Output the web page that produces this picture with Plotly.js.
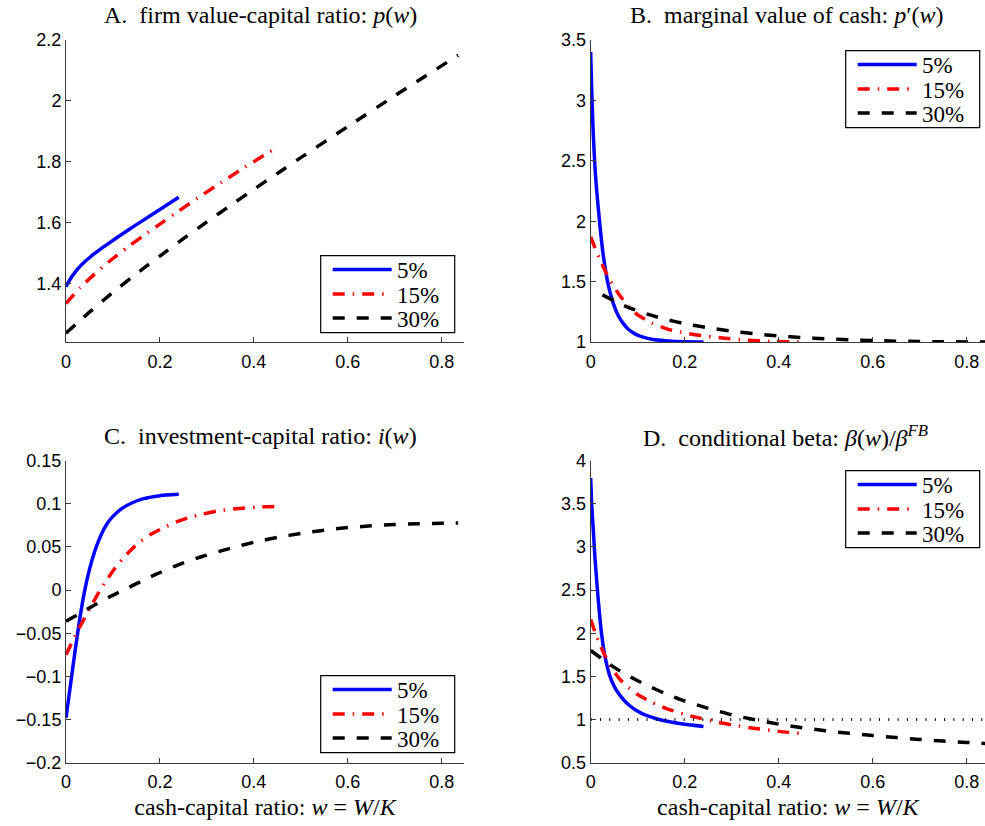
<!DOCTYPE html>
<html>
<head>
<meta charset="utf-8">
<script src="https://cdn.plot.ly/plotly-3.0.1.min.js"></script>
<style>html,body{margin:0;padding:0;background:#fff;}#chart{width:985px;height:826px;}</style>
</head>
<body>
<div id="chart"></div>
<script>
// ---------- DATA ----------
const seriesNames = ['5%', '15%', '30%'];

// Panel A: firm value-capital ratio p(w)
const aW5  = [0, 0.0055, 0.013, 0.02, 0.027, 0.0375, 0.048, 0.059, 0.08, 0.108, 0.135, 0.165, 0.2, 0.24];
const aP5  = [1.39, 1.4065, 1.4245, 1.439, 1.452, 1.469, 1.483, 1.497, 1.521, 1.551, 1.579, 1.609, 1.644, 1.684];
const aW15 = [0, 0.01, 0.02, 0.03, 0.04, 0.06, 0.08, 0.1, 0.13, 0.165, 0.2, 0.23, 0.28, 0.33, 0.38, 0.45];
const aP15 = [1.335, 1.353, 1.37, 1.387, 1.402, 1.431, 1.458, 1.483, 1.519, 1.558, 1.596, 1.628, 1.681, 1.732, 1.782, 1.848];
const aW30 = [0, 0.025, 0.05, 0.1, 0.16, 0.2, 0.25, 0.3, 0.35, 0.4, 0.45, 0.5, 0.6, 0.7, 0.835];
const aP30 = [1.238, 1.273, 1.307, 1.372, 1.445, 1.491, 1.548, 1.603, 1.657, 1.71, 1.762, 1.814, 1.916, 2.017, 2.15];

// Panel B: marginal value of cash p'(w)
const bW5  = [0, 0.002, 0.0055, 0.009, 0.013, 0.02, 0.027, 0.0375, 0.048, 0.059, 0.07, 0.08, 0.095, 0.108, 0.13, 0.165, 0.2, 0.24];
const bD5  = [3.4, 3.1, 2.72, 2.45, 2.24, 1.95, 1.71, 1.47, 1.32, 1.215, 1.15, 1.105, 1.065, 1.044, 1.022, 1.008, 1.002, 1.0];
const bW15 = [0, 0.01, 0.02, 0.03, 0.04, 0.06, 0.08, 0.1, 0.13, 0.165, 0.2, 0.23, 0.28, 0.33, 0.38, 0.45];
const bD15 = [1.87, 1.77, 1.68, 1.595, 1.52, 1.395, 1.295, 1.225, 1.157, 1.105, 1.075, 1.056, 1.033, 1.015, 1.005, 1.0];
const bW30 = [0.025, 0.05, 0.075, 0.1, 0.13, 0.16, 0.2, 0.25, 0.3, 0.35, 0.4, 0.45, 0.5, 0.55, 0.6, 0.65, 0.7, 0.75, 0.84];
const bD30 = [1.39, 1.34, 1.295, 1.257, 1.22, 1.187, 1.152, 1.117, 1.09, 1.068, 1.05, 1.037, 1.027, 1.019, 1.012, 1.007, 1.004, 1.002, 1.0];

// Panel C: investment-capital ratio i(w)
const cW5  = [0, 0.01, 0.02, 0.03, 0.04, 0.05, 0.06, 0.07, 0.08, 0.09, 0.1, 0.12, 0.14, 0.165, 0.2, 0.24];
const cI5  = [-0.148, -0.108, -0.068, -0.031, 0.0, 0.024, 0.043, 0.058, 0.07, 0.079, 0.0855, 0.095, 0.101, 0.106, 0.1095, 0.111];
const cW15 = [0, 0.015, 0.03, 0.045, 0.06, 0.075, 0.09, 0.105, 0.12, 0.14, 0.16, 0.18, 0.21, 0.235, 0.26, 0.29, 0.32, 0.356, 0.41, 0.45];
const cI15 = [-0.075, -0.058, -0.042, -0.027, -0.012, 0.002, 0.0145, 0.026, 0.036, 0.0475, 0.057, 0.0645, 0.073, 0.079, 0.0838, 0.088, 0.0915, 0.094, 0.0965, 0.097];
const cW30 = [0, 0.03, 0.06, 0.09, 0.12, 0.15, 0.19, 0.24, 0.29, 0.35, 0.4, 0.45, 0.5, 0.55, 0.6, 0.65, 0.7, 0.75, 0.8, 0.835];
const cI30 = [-0.036, -0.027, -0.0175, -0.0085, -0.0005, 0.0075, 0.018, 0.0295, 0.039, 0.0485, 0.0555, 0.061, 0.0658, 0.0695, 0.0725, 0.0745, 0.076, 0.077, 0.0775, 0.0778];

// Panel D: conditional beta beta(w)/beta^FB
const dW5  = [0, 0.002, 0.0055, 0.009, 0.016, 0.023, 0.03, 0.041, 0.05, 0.059, 0.07, 0.08, 0.1, 0.1155, 0.14, 0.165, 0.2, 0.24];
const dB5  = [3.8, 3.5, 3.2, 2.88, 2.39, 2.0, 1.74, 1.5, 1.385, 1.305, 1.23, 1.175, 1.095, 1.053, 1.01, 0.978, 0.945, 0.92];
const dW15 = [0, 0.01, 0.02, 0.03, 0.045, 0.06, 0.075, 0.1, 0.13, 0.16, 0.2, 0.233, 0.27, 0.3, 0.35, 0.4, 0.45];
const dB15 = [2.16, 2.0, 1.865, 1.745, 1.595, 1.48, 1.395, 1.29, 1.2, 1.13, 1.06, 1.015, 0.97, 0.94, 0.897, 0.863, 0.838];
const dW30 = [0, 0.025, 0.05, 0.075, 0.1, 0.13, 0.165, 0.2, 0.25, 0.3, 0.35, 0.4, 0.45, 0.5, 0.55, 0.6, 0.65, 0.7, 0.75, 0.8, 0.84];
const dB30 = [1.8, 1.7, 1.605, 1.522, 1.45, 1.37, 1.287, 1.215, 1.13, 1.055, 0.997, 0.947, 0.906, 0.87, 0.84, 0.814, 0.791, 0.77, 0.751, 0.735, 0.722];
const dRefW = [0, 0.84];
const dRefB = [1, 1];

// Titles
const panelTitles = [
  'A.\u00A0 firm value-capital ratio: <i>p</i>(<i>w</i>)',
  'B.\u00A0 marginal value of cash: <i>p</i>\u2032(<i>w</i>)',
  'C.\u00A0 investment-capital ratio: <i>i</i>(<i>w</i>)',
  'D.\u00A0 conditional beta: <i>β</i>(<i>w</i>)/<i>β</i><sup><i>FB</i></sup>'
];
const xTitle = 'cash-capital ratio: <i>w</i> = <i>W</i>/<i>K</i>';

// ---------- STYLES ----------
const W = 985, H = 826;
const serif = 'Liberation Serif';
const sans = 'Liberation Sans';
const styles = [
  {color: '#0000ff', width: 3.5, dash: 'solid'},
  {color: '#ff0000', width: 3.5, dash: '12px,8px,1.5px,8px'},
  {color: '#000000', width: 3.5, dash: '12px,12px'}
];
const px = x => x / W;
const py = y => 1 - y / H;

const panels = [
  {xa: 'x',  ya: 'y',  data: [[aW5, aP5], [aW15, aP15], [aW30, aP30]]},
  {xa: 'x2', ya: 'y2', data: [[bW5, bD5], [bW15, bD15], [bW30, bD30]]},
  {xa: 'x3', ya: 'y3', data: [[cW5, cI5], [cW15, cI15], [cW30, cI30]]},
  {xa: 'x4', ya: 'y4', data: [[dW5, dB5], [dW15, dB15], [dW30, dB30]]}
];

const traces = [];
panels.forEach(p => {
  p.data.forEach((d, k) => {
    traces.push({
      x: d[0], y: d[1], xaxis: p.xa, yaxis: p.ya, type: 'scatter', mode: 'lines',
      name: seriesNames[k], showlegend: false, hoverinfo: 'skip',
      line: {color: styles[k].color, width: styles[k].width, dash: styles[k].dash, shape: 'spline', smoothing: 0.5}
    });
  });
});
traces.push({
  x: dRefW, y: dRefB, xaxis: 'x4', yaxis: 'y4', type: 'scatter', mode: 'lines',
  showlegend: false, hoverinfo: 'skip',
  line: {color: '#000000', width: 3, dash: '1px,8.3px'}
});

// ---------- GEOMETRY (pixels) ----------
const leftX = [66, 464], rightX = [590.7, 985];
const topY = [40, 342], botY = [460.7, 762.7];

function axisBase(extra) {
  return Object.assign({
    showgrid: false, zeroline: false, showline: true, linecolor: '#3a3a3a', linewidth: 1,
    ticks: 'inside', ticklen: 5, tickcolor: '#3a3a3a', tickwidth: 1, mirror: false,
    tickfont: {family: sans, size: 18, color: '#000'}, fixedrange: true
  }, extra);
}
const xTitleObj = {text: xTitle, font: {family: serif, size: 24, color: '#000'}, standoff: 6};

const layout = {
  width: W, height: H,
  margin: {l: 0, r: 0, t: 0, b: 0},
  paper_bgcolor: '#ffffff', plot_bgcolor: '#ffffff',
  showlegend: false,
  xaxis:  axisBase({domain: [px(leftX[0]), px(leftX[1])], range: [0, 0.8475], tick0: 0, dtick: 0.2, anchor: 'y', ticklabelstandoff: 3}),
  yaxis:  axisBase({domain: [py(topY[1]), py(topY[0])], range: [1.209, 2.2], tick0: 0, dtick: 0.2, anchor: 'x'}),
  xaxis2: axisBase({domain: [px(rightX[0]), px(rightX[1])], range: [0, 0.839], tick0: 0, dtick: 0.2, anchor: 'y2', ticklabelstandoff: 3}),
  yaxis2: axisBase({domain: [py(topY[1]), py(topY[0])], range: [1, 3.5], tick0: 0, dtick: 0.5, anchor: 'x2'}),
  xaxis3: axisBase({domain: [px(leftX[0]), px(leftX[1])], range: [0, 0.8475], tick0: 0, dtick: 0.2, anchor: 'y3', ticklabelstandoff: 3, title: xTitleObj}),
  yaxis3: axisBase({domain: [py(botY[1]), py(botY[0])], range: [-0.2, 0.15], tick0: 0, dtick: 0.05, anchor: 'x3'}),
  xaxis4: axisBase({domain: [px(rightX[0]), px(rightX[1])], range: [0, 0.839], tick0: 0, dtick: 0.2, anchor: 'y4', ticklabelstandoff: 3, title: xTitleObj}),
  yaxis4: axisBase({domain: [py(botY[1]), py(botY[0])], range: [0.5, 4], tick0: 0, dtick: 0.5, anchor: 'x4'}),
  shapes: [],
  annotations: []
};

// Panel titles
const titlePos = [[260.5, 15], [786.7, 15], [260.3, 436], [785.8, 436]];
panelTitles.forEach((t, i) => {
  layout.annotations.push({
    text: t, xref: 'paper', yref: 'paper', x: px(titlePos[i][0]), y: py(titlePos[i][1]),
    xanchor: 'center', yanchor: 'middle', showarrow: false,
    font: {family: serif, size: 24, color: '#000'}
  });
});

// Legends (boxes drawn in pixel positions)
const legendBoxes = [[320.7, 255.7], [845.7, 50.7], [320.7, 675.7], [845.7, 470.7]];
const rowOff = [13.8, 38.4, 62.4];
legendBoxes.forEach(b => {
  const [L, T] = b;
  layout.shapes.push({
    type: 'rect', xref: 'paper', yref: 'paper',
    x0: px(L), x1: px(L + 134), y0: py(T + 77), y1: py(T),
    line: {color: '#000', width: 1.2}, fillcolor: '#ffffff', layer: 'above'
  });
  seriesNames.forEach((nm, k) => {
    layout.shapes.push({
      type: 'line', xref: 'paper', yref: 'paper',
      x0: px(L + 12), x1: px(L + 71), y0: py(T + rowOff[k]), y1: py(T + rowOff[k]),
      line: {color: styles[k].color, width: styles[k].width, dash: styles[k].dash}, layer: 'above'
    });
    layout.annotations.push({
      text: nm, xref: 'paper', yref: 'paper', x: px(L + 74), y: py(T + rowOff[k] + 1),
      xanchor: 'left', yanchor: 'middle', showarrow: false,
      font: {family: serif, size: 23, color: '#000'}
    });
  });
});

Plotly.newPlot('chart', traces, layout, {staticPlot: true, displayModeBar: false});
</script>
</body>
</html>
